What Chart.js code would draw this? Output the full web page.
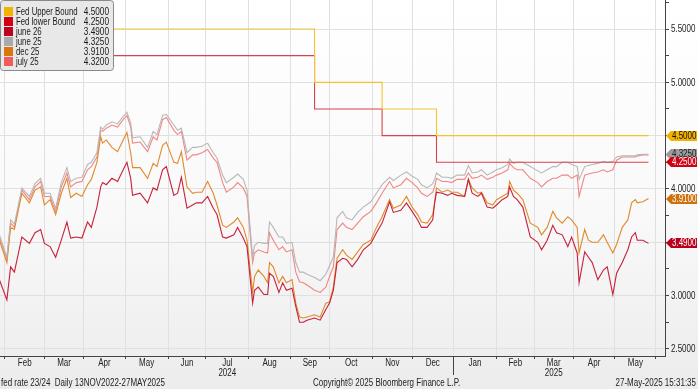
<!DOCTYPE html>
<html><head><meta charset="utf-8">
<script src="https://cdn.jsdelivr.net/npm/chart.js@4.4.1/dist/chart.umd.min.js"></script>
<style>html,body{margin:0;padding:0;background:#fff;overflow:hidden}#wrap{width:698px;height:389px;position:relative}</style>
</head><body><div id="wrap"><canvas id="c" width="698" height="389"></canvas></div>
<script>
// ---- data ----
const dates = ['2024-01-29','2024-02-02','2024-02-06','2024-02-08','2024-02-14','2024-02-20','2024-02-23','2024-02-28','2024-03-01','2024-03-06','2024-03-11','2024-03-14','2024-03-19','2024-03-21','2024-03-26','2024-03-29','2024-04-03','2024-04-05','2024-04-10','2024-04-12','2024-04-15','2024-04-17','2024-04-22','2024-04-25','2024-04-30','2024-05-02','2024-05-06','2024-05-07','2024-05-13','2024-05-17','2024-05-22','2024-05-24','2024-05-29','2024-05-31','2024-06-06','2024-06-10','2024-06-12','2024-06-17','2024-06-20','2024-06-24','2024-06-27','2024-07-02','2024-07-05','2024-07-09','2024-07-12','2024-07-16','2024-07-22','2024-07-24','2024-07-29','2024-07-31','2024-08-05','2024-08-06','2024-08-08','2024-08-13','2024-08-15','2024-08-16','2024-08-20','2024-08-23','2024-08-27','2024-08-29','2024-09-03','2024-09-05','2024-09-09','2024-09-11','2024-09-13','2024-09-19','2024-09-24','2024-09-27','2024-10-01','2024-10-03','2024-10-07','2024-10-10','2024-10-14','2024-10-17','2024-10-22','2024-10-25','2024-10-31','2024-11-05','2024-11-08','2024-11-14','2024-11-18','2024-11-22','2024-11-27','2024-12-02','2024-12-05','2024-12-09','2024-12-12','2024-12-17','2024-12-18','2024-12-19','2024-12-24','2024-12-27','2024-12-31','2025-01-03','2025-01-09','2025-01-13','2025-01-15','2025-01-20','2025-01-22','2025-01-27','2025-01-30','2025-02-03','2025-02-06','2025-02-11','2025-02-12','2025-02-14','2025-02-18','2025-02-21','2025-02-27','2025-03-05','2025-03-07','2025-03-12','2025-03-17','2025-03-19','2025-03-24','2025-03-27','2025-03-31','2025-04-03','2025-04-04','2025-04-09','2025-04-11','2025-04-15','2025-04-18','2025-04-23','2025-04-25','2025-04-30','2025-05-02','2025-05-07','2025-05-12','2025-05-14','2025-05-16','2025-05-19','2025-05-22','2025-05-27'];
const june26 = [3.15,2.96,3.27,3.22,3.55,3.49,3.59,3.62,3.49,3.46,3.36,3.52,3.69,3.54,3.55,3.54,3.69,3.64,3.83,4.02,4.06,4.04,4.10,4.07,4.18,4.25,4.10,3.94,3.96,3.87,4.01,3.99,4.18,4.21,3.94,3.96,4.11,3.82,3.85,3.87,3.87,3.93,3.82,3.76,3.55,3.54,3.57,3.64,3.54,3.46,2.93,3.05,3.08,3.01,3.01,3.21,3.18,3.03,3.12,3.05,3.07,2.90,2.75,2.75,2.77,2.79,2.77,2.87,2.93,3.05,3.31,3.35,
  3.34,3.27,3.34,3.43,3.49,3.59,3.68,3.88,3.78,3.80,3.87,3.79,3.71,3.64,3.64,3.71,3.87,3.97,3.96,3.94,3.96,3.94,3.93,4.09,3.96,3.93,3.96,3.83,3.82,3.85,3.90,3.93,4.02,3.93,3.90,3.83,3.55,3.50,3.43,3.52,3.66,3.59,3.57,3.46,3.55,3.40,3.12,3.41,3.36,3.31,3.15,3.24,3.27,3.01,3.21,3.31,3.43,3.55,3.59,3.52,3.52,3.49];
const dec25 = [3.52,3.31,3.64,3.62,3.96,3.87,3.99,4.02,3.85,3.90,3.76,3.96,4.10,3.92,3.96,3.93,4.04,4.09,4.25,4.49,4.43,4.46,4.39,4.35,4.46,4.53,4.34,4.20,4.20,4.10,4.24,4.21,4.41,4.44,4.25,4.24,4.35,4.02,3.96,3.97,3.97,4.07,3.96,3.85,3.66,3.64,3.69,3.73,3.64,3.52,3.03,3.18,3.24,3.18,3.12,3.31,3.27,3.12,3.18,3.12,3.15,2.93,2.80,2.79,2.80,2.82,2.80,2.93,2.94,3.08,3.35,3.43,
  3.38,3.34,3.41,3.48,3.52,3.64,3.74,3.90,3.82,3.85,3.93,3.83,3.76,3.69,3.68,3.76,3.87,4.01,3.97,3.99,3.97,3.97,3.93,4.09,4.01,3.96,3.97,3.87,3.85,3.90,3.93,3.96,4.07,3.99,3.96,3.90,3.68,3.64,3.57,3.64,3.79,3.73,3.68,3.74,3.71,3.64,3.40,3.62,3.52,3.50,3.50,3.57,3.50,3.40,3.48,3.64,3.71,3.87,3.90,3.87,3.88,3.91];
const july25 = [3.55,3.34,3.68,3.64,3.99,3.90,4.02,4.07,3.93,3.93,3.79,4.02,4.15,4.02,4.06,4.07,4.18,4.21,4.30,4.55,4.54,4.57,4.60,4.58,4.65,4.69,4.58,4.43,4.44,4.35,4.49,4.46,4.65,4.67,4.55,4.51,4.54,4.27,4.32,4.32,4.34,4.37,4.29,4.25,4.06,3.97,4.02,4.06,4.01,3.93,3.31,3.40,3.43,3.41,3.40,3.59,3.52,3.43,3.46,3.41,3.43,3.22,3.13,3.12,3.10,3.05,3.03,3.08,3.18,3.27,3.62,3.68,
  3.64,3.62,3.68,3.74,3.79,3.87,3.96,4.07,4.01,4.04,4.10,4.06,4.01,3.96,3.93,3.97,4.02,4.10,4.07,4.07,4.06,4.09,4.09,4.15,4.10,4.11,4.13,4.09,4.11,4.13,4.15,4.18,4.24,4.20,4.18,4.18,4.10,4.06,4.02,4.07,4.10,4.10,4.13,4.13,4.10,4.13,3.93,4.13,4.14,4.15,4.16,4.18,4.16,4.18,4.27,4.30,4.30,4.30,4.30,4.31,4.32,4.32];
const june25 = [3.57,3.36,3.71,3.67,4.01,3.93,4.05,4.10,3.96,3.96,3.82,4.06,4.20,4.07,4.10,4.11,4.23,4.25,4.34,4.58,4.56,4.60,4.63,4.61,4.68,4.72,4.62,4.48,4.49,4.39,4.54,4.51,4.69,4.70,4.60,4.55,4.57,4.34,4.39,4.39,4.40,4.43,4.34,4.29,4.13,4.06,4.11,4.14,4.09,3.99,3.36,3.47,3.50,3.49,3.49,3.69,3.64,3.55,3.55,3.49,3.50,3.31,3.22,3.22,3.20,3.17,3.14,3.20,3.28,3.36,3.73,3.79,
  3.73,3.71,3.78,3.83,3.88,3.96,4.04,4.11,4.08,4.13,4.16,4.12,4.09,4.04,4.01,4.05,4.09,4.15,4.11,4.11,4.10,4.13,4.13,4.22,4.15,4.16,4.18,4.13,4.16,4.18,4.20,4.23,4.28,4.24,4.25,4.25,4.21,4.17,4.15,4.18,4.21,4.21,4.25,4.25,4.23,4.21,4.09,4.21,4.22,4.23,4.24,4.26,4.25,4.26,4.30,4.31,4.31,4.31,4.31,4.32,4.325,4.325];
const fedDates = ['2024-01-29','2024-09-19','2024-11-08','2024-12-19','2025-05-27'];
const fedUpper = [5.50,5.00,4.75,4.50,4.50];
const fedLower = [5.25,4.75,4.50,4.25,4.25];
const monthStarts = ['2024-02-01','2024-03-01','2024-04-01','2024-05-01','2024-06-01','2024-07-01','2024-08-01','2024-09-01','2024-10-01','2024-11-01','2024-12-01','2025-01-01','2025-02-01','2025-03-01','2025-04-01','2025-05-01','2025-06-01'];
const monthLabels = ['Feb','Mar','Apr','May','Jun',['Jul','2024'],'Aug','Sep','Oct','Nov','Dec','Jan','Feb',['Mar','2025'],'Apr','May'];
const yMajorTicks = [2.5,3.0,3.5,4.0,4.5,5.0,5.5];
const seriesNames = ['Fed Upper Bound','Fed lower Bound','june 26','june 25','dec 25','july 25'];
const footerLeft = 'fed rate 23/24  Daily 13NOV2022-27MAY2025';
const footerMid = 'Copyright\u00A9 2025 Bloomberg Finance L.P.';
const footerRight = '27-May-2025 15:31:35';

// ---- helpers ----
const FONT = '"Liberation Sans",Arial,sans-serif';
function bdIndex(s){ // business-day position relative to 1 Feb 2024
  const base = Date.UTC(2024,1,1); const p = s.split('-').map(Number);
  const t = Date.UTC(p[0],p[1]-1,p[2]); let n = 0;
  if (t >= base){ for (let u=base; u<t; u+=864e5){ const d=new Date(u).getUTCDay(); if(d!==0&&d!==6) n++; } }
  else { for (let u=base; u>t; u-=864e5){ const d=new Date(u-864e5).getUTCDay(); if(d!==0&&d!==6) n--; } }
  return n;
}
const pts = (ds, vs) => ds.map((d,i)=>({x:bdIndex(d), y:vs[i]}));
const ms = monthStarts.map(bdIndex);
const xVals=[], xKinds=[], xText=[];
ms.forEach((v,i)=>{ xVals.push(v); xKinds.push('b'); xText.push('');
  if (i<monthLabels.length){ xVals.push((v+ms[i+1])/2); xKinds.push('m'); xText.push(monthLabels[i]); } });
const yVals=[]; for(let v=2.5; v<=5.751; v+=0.25) yVals.push(Math.round(v*100)/100);
const isMajor = v => yMajorTicks.some(m=>Math.abs(m-v)<1e-6);
function sText(c, s, x, y, align, px, sx){ c.save(); c.font = px+'px '+FONT; c.translate(x,y); c.scale(sx||0.8,1);
  c.textAlign = align; c.fillText(s,0,0); c.restore(); }

const colors = { upper:'#f4c430', lower:'#d8434b', june26:'#c8203a', june25:'#b8b8b8', dec25:'#e08a2a', july25:'#f28585' };
const swatch = ['#f2b200','#d10012','#c0001f','#a9a9a9','#d9770e','#f05c5c'];
const tagBg = ['#f2b200','#d10012','#b8001c','#9c9c9c','#cf700a','#f05c5c'];
const tagFg = ['#111','#fff','#fff','#222','#fff','#fff'];

const bgPlugin = { id:'bg', beforeDraw(ch){ const c=ch.ctx; const g=c.createLinearGradient(0,0,0,389);
  g.addColorStop(0,'#ffffff'); g.addColorStop(0.55,'#f9f9f9'); g.addColorStop(1,'#ececec');
  c.save(); c.fillStyle=g; c.fillRect(0,0,ch.width,ch.height); c.restore(); } };

const deco = { id:'deco', afterDraw(ch){
  const c = ch.ctx, ys = ch.scales.y, xs = ch.scales.x, ca = ch.chartArea;
  c.save();
  c.fillStyle = '#222'; c.textBaseline = 'alphabetic';
  // x labels
  xVals.forEach((v,i)=>{ if (xKinds[i]!=='m') return; const t = xText[i]; const x = xs.getPixelForValue(v);
    if (Array.isArray(t)) { sText(c, t[0], x, 366, 'center', 10); sText(c, t[1], x, 376, 'center', 10); }
    else sText(c, t, x, 366, 'center', 10); });
  // year separator
  const xj = Math.round(xs.getPixelForValue(bdIndex('2025-01-01')))+0.5;
  c.strokeStyle='#444'; c.lineWidth=1; c.beginPath(); c.moveTo(xj, ca.bottom); c.lineTo(xj, ca.bottom+19); c.stroke();
  // y labels
  c.textBaseline = 'middle';
  yVals.forEach(v=>{ if (!isMajor(v)) return; sText(c, v.toFixed(4), ca.right+6, ys.getPixelForValue(v)+0.5, 'left', 10); });
  // value tags
  const order = [5,3,0,1,4,2];
  order.forEach(i=>{ const ds = ch.data.datasets[i]; const last = ds.data[ds.data.length-1].y;
    const y = Math.round(ys.getPixelForValue(last)); const x0 = ca.right+1;
    c.fillStyle = tagBg[i]; c.beginPath(); c.moveTo(x0, y); c.lineTo(x0+5, y-5); c.lineTo(697, y-5);
    c.lineTo(697, y+5); c.lineTo(x0+5, y+5); c.closePath(); c.fill();
    c.fillStyle = tagFg[i]; sText(c, last.toFixed(4), x0+6, y+0.5, 'left', 10); });
  // legend
  c.fillStyle='#e8e8e8'; c.strokeStyle='#8a8a8a'; c.lineWidth=1;
  c.beginPath(); c.roundRect(0.5,0.5,113,70,3); c.fill(); c.stroke();
  ch.data.datasets.forEach((ds,i)=>{ const y = 11 + i*10.1;
    c.fillStyle = swatch[i]; c.fillRect(4, Math.round(y-4.5), 9, 9);
    c.fillStyle='#1a1a1a';
    sText(c, seriesNames[i], 16, y+0.5, 'left', 11, 0.71);
    sText(c, ds.data[ds.data.length-1].y.toFixed(4), 109, y+0.5, 'right', 11, 0.75); });
  // footer
  c.fillStyle='#222'; c.textBaseline='alphabetic';
  sText(c, footerLeft, 1, 386, 'left', 10);
  sText(c, footerMid, 313, 386, 'left', 10);
  sText(c, footerRight, 696, 386, 'right', 10);
  c.restore(); } };

const line = (label, data, color, extra) => Object.assign({label, data, borderColor:color, backgroundColor:color,
  borderWidth:1.1, pointRadius:0, tension:0, fill:false}, extra||{});

new Chart(document.getElementById('c'), {
  type:'line',
  data:{ datasets:[
    line(seriesNames[0], pts(fedDates, fedUpper), colors.upper, {stepped:true}),
    line(seriesNames[1], pts(fedDates, fedLower), colors.lower, {stepped:true}),
    line(seriesNames[2], pts(dates, june26), colors.june26),
    line(seriesNames[3], pts(dates, june25), colors.june25),
    line(seriesNames[4], pts(dates, dec25), colors.dec25),
    line(seriesNames[5], pts(dates, july25), colors.july25)
  ]},
  options:{
    responsive:false, animation:false, events:[],
    layout:{padding:0},
    plugins:{ legend:{display:false}, tooltip:{enabled:false} },
    scales:{
      x:{ type:'linear', min:-2.665, max:351.8, position:'bottom',
        afterBuildTicks:s=>{ s.ticks = xVals.map(v=>({value:v})); },
        afterFit:s=>{ s.height = 33; },
        ticks:{ display:false, autoSkip:false, maxRotation:0, minRotation:0 },
        grid:{ drawOnChartArea:true, drawTicks:true, tickLength:3, lineWidth:1,
          color:c=> xKinds[c.index]==='b' ? '#e0e0e0' : 'rgba(0,0,0,0)',
          tickColor:c=> xKinds[c.index]==='b' ? '#444' : 'rgba(0,0,0,0)' },
        border:{ display:true, color:'#444', width:1 } },
      y:{ type:'linear', position:'right', min:2.434, max:5.772,
        afterBuildTicks:s=>{ s.ticks = yVals.map(v=>({value:v})); },
        afterFit:s=>{ s.width = 33; },
        ticks:{ display:false, autoSkip:false },
        grid:{ drawTicks:true, tickLength:4, lineWidth:1,
          color:c=> (c.tick && isMajor(c.tick.value)) ? '#e0e0e0' : 'rgba(0,0,0,0)',
          tickColor:'#444' },
        border:{ display:true, color:'#444', width:1 } }
    }
  },
  plugins:[bgPlugin, deco]
});
</script></body></html>
